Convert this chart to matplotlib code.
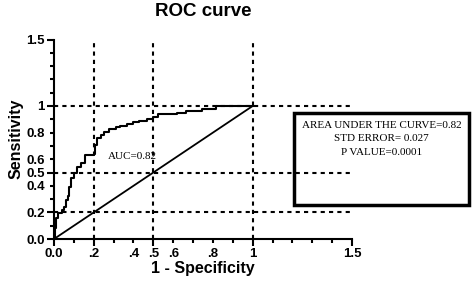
import matplotlib
matplotlib.use("Agg")
import matplotlib.pyplot as plt
from matplotlib.ticker import FixedLocator, FuncFormatter
from matplotlib.patches import Rectangle

# ROC curve corner points (step curve)
fpr = [0, 0.003, 0.012, 0.022, 0.038, 0.05, 0.062, 0.07, 0.078, 0.085, 0.1, 0.115,
       0.135, 0.155, 0.2, 0.205, 0.215, 0.235, 0.25, 0.275, 0.31, 0.33, 0.365, 0.4,
       0.43, 0.466, 0.5, 0.525, 0.62, 0.665, 0.745, 0.815, 1.0]
tpr = [0, 0.08, 0.16, 0.195, 0.215, 0.24, 0.29, 0.32, 0.39, 0.455, 0.5, 0.54,
       0.57, 0.63, 0.64, 0.71, 0.76, 0.78, 0.806, 0.83, 0.84, 0.85, 0.862, 0.877,
       0.89, 0.905, 0.92, 0.94, 0.95, 0.962, 0.98, 1.0, 1.0]

ref_x = [0.2, 0.5, 1.0]
ref_y = [0.2, 0.5, 1.0]

major_ticks = [0, 0.2, 0.5, 1.0, 1.5]
minor_ticks = [0.1, 0.3, 0.4, 0.6, 0.7, 0.8, 0.9, 1.1, 1.2, 1.3, 1.4]
x_labels = {0: "0.0", 0.2: ".2", 0.4: ".4", 0.5: ".5", 0.6: ".6", 0.8: ".8", 1.0: "1", 1.5: "1.5"}
y_labels = {0: "0.0", 0.2: "0.2", 0.4: "0.4", 0.5: "0.5", 0.6: "0.6", 0.8: "0.8", 1.0: "1", 1.5: "1.5"}

stats = ["AREA UNDER THE CURVE=0.82", "STD ERROR= 0.027", "P VALUE=0.0001"]
auc_text = "AUC=0.82"

plt.rcParams['font.family'] = ['Liberation Sans', 'DejaVu Sans']

fig = plt.figure(figsize=(4.72, 2.89), dpi=100)
ax = fig.add_axes([54/472, 1 - 239/289, 298/472, 199.5/289])

ax.step(fpr, tpr, where='post', color='black', lw=1.5, zorder=3)
ax.plot([0, 1], [0, 1], color='black', lw=1.3, zorder=3)

ax.text(0.271, 0.624, auc_text, family='Liberation Serif', fontsize=8,
        va='center', ha='left', zorder=2)

for x in ref_x:
    ax.axvline(x, color='black', lw=1.5, ls=(0, (2, 2)), zorder=4)
for y in ref_y:
    ax.axhline(y, color='black', lw=1.5, ls=(0, (2, 2)), zorder=4)

ax.set_xlim(0, 1.5)
ax.set_ylim(0, 1.5)

def fmt(labels):
    def f(v, pos):
        for k, s in labels.items():
            if abs(v - k) < 1e-6:
                return s
        return ""
    return FuncFormatter(f)

for axis, labels in ((ax.xaxis, x_labels), (ax.yaxis, y_labels)):
    axis.set_major_locator(FixedLocator(major_ticks))
    axis.set_minor_locator(FixedLocator(minor_ticks))
    axis.set_major_formatter(fmt(labels))
    axis.set_minor_formatter(fmt(labels))

ax.tick_params(which='major', length=5, width=1.5, labelsize=9.5, pad=1.5)
ax.tick_params(which='minor', length=3, width=1.5, labelsize=9.5, pad=3.5)
for lab in ax.get_xticklabels(which='both') + ax.get_yticklabels(which='both'):
    lab.set_fontweight('bold')

for side in ('top', 'right'):
    ax.spines[side].set_visible(False)
for side in ('left', 'bottom'):
    ax.spines[side].set_linewidth(1.5)

ax.set_xlabel("1 - Specificity", fontsize=11.5, fontweight='bold', labelpad=1)
ax.set_ylabel("Sensitivity", fontsize=11.5, fontweight='bold', labelpad=2)
ax.set_title("ROC curve", fontsize=13.5, fontweight='bold', pad=17)

box = Rectangle((1.206, 0.256), 0.884, 0.691, fill=False, lw=2.5, ec='black',
                clip_on=False, zorder=5)
ax.add_patch(box)
for yy, s in zip([0.857, 0.752, 0.654], stats):
    ax.text(1.648, yy, s, family='Liberation Serif', fontsize=8,
            ha='center', va='center', clip_on=False)

fig.savefig("out.png", dpi=100)
